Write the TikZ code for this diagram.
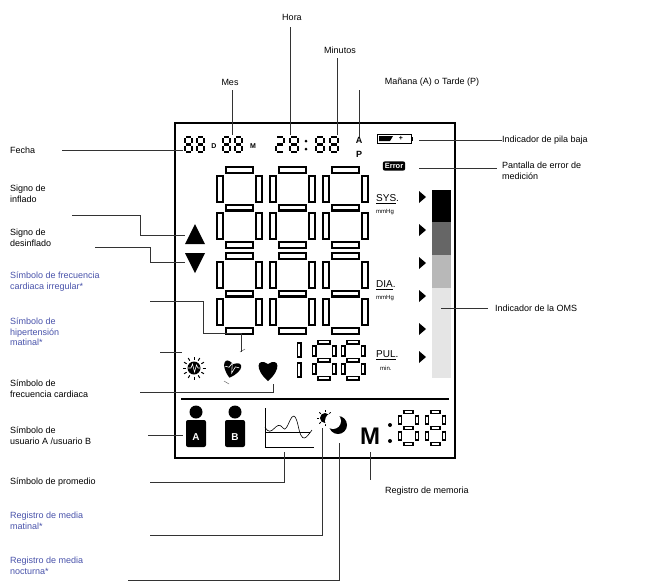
\documentclass[tikz,border=0pt]{standalone}
\usepackage{fontspec}
\setmainfont{Liberation Sans}
\begin{document}
\begin{tikzpicture}[x=1pt,y=-1pt,
  lbl/.style={font=\fontsize{9}{10.5}\selectfont,align=left,inner sep=0pt},
  blu/.style={lbl,text=irr},
  lead/.style={draw=black!80,line width=0.6pt},
  segA/.style={line width=#1,black,line cap=butt},
  segB/.style={line width=#1,white,line cap=butt,shorten <=2pt,shorten >=2pt}]
\definecolor{irr}{RGB}{72,82,170}
\useasboundingbox (0,0) rectangle (645,587);
\newcommand\sseg[3]{\draw[segA=#3pt] #1--#2;\ifdim #3pt>3pt \draw[segB=#3pt*0.4] #1--#2;\fi}
\newcommand\sdigpre[5]{%
  \pgfmathsetmacro\gx{#5*0.6}%
  \pgfmathsetmacro\xa{#1}\pgfmathsetmacro\xb{#1+#3}%
  \pgfmathsetmacro\xc{#1+\gx}\pgfmathsetmacro\xd{#1+#3-\gx}%
  \pgfmathsetmacro\ya{#2}\pgfmathsetmacro\ym{#2+#4*0.5}\pgfmathsetmacro\yb{#2+#4}%
  \pgfmathsetmacro\yc{#2+\gx}\pgfmathsetmacro\yd{#2+#4*0.5-\gx}%
  \pgfmathsetmacro\ye{#2+#4*0.5+\gx}\pgfmathsetmacro\yf{#2+#4-\gx}}
\newcommand\sdig[5]{% x y w h lw
  \sdigpre{#1}{#2}{#3}{#4}{#5}%
  \sseg{(\xc,\ya)}{(\xd,\ya)}{#5}\sseg{(\xc,\ym)}{(\xd,\ym)}{#5}\sseg{(\xc,\yb)}{(\xd,\yb)}{#5}%
  \sseg{(\xa,\yc)}{(\xa,\yd)}{#5}\sseg{(\xb,\yc)}{(\xb,\yd)}{#5}%
  \sseg{(\xa,\ye)}{(\xa,\yf)}{#5}\sseg{(\xb,\ye)}{(\xb,\yf)}{#5}}
\newcommand\sdigtwo[5]{%
  \sdigpre{#1}{#2}{#3}{#4}{#5}%
  \sseg{(\xc,\ya)}{(\xd,\ya)}{#5}\sseg{(\xc,\ym)}{(\xd,\ym)}{#5}\sseg{(\xc,\yb)}{(\xd,\yb)}{#5}%
  \sseg{(\xb,\yc)}{(\xb,\yd)}{#5}\sseg{(\xa,\ye)}{(\xa,\yf)}{#5}}
% frame
\draw[line width=1.6pt] (175,123) rectangle (455,458);
\draw[line width=1.6pt] (181,399) -- (449,399);
% date / time
\sdig{185}{137}{7}{15}{2.4}\sdig{197}{137}{7}{15}{2.4}
\node[font=\bfseries\fontsize{7}{7}\selectfont,inner sep=0] (D) at (214,146) {D};
\sdig{223}{137}{7}{15}{2.4}\sdig{235}{137}{7}{15}{2.4}
\node[font=\bfseries\fontsize{7}{7}\selectfont,inner sep=0] (Mm) at (253,146) {M};
\sdigtwo{276}{137}{8}{15}{2.4}\sdig{290}{137}{8}{15}{2.4}
\fill (306,141) circle (1.5) (306,149) circle (1.5);
\sdig{316}{137}{8}{15}{2.4}\sdig{330}{137}{8}{15}{2.4}
\node[font=\bfseries\fontsize{9}{9}\selectfont,inner sep=0] (A) at (359,140) {A};
\node[font=\bfseries\fontsize{9}{9}\selectfont,inner sep=0] (P) at (359,154) {P};
% battery
\draw[line width=1pt] (377,134) rectangle (411,143);
\fill (411.5,136.5) rectangle (413,140.5);
\fill (379,136) -- (393,136) -- (390,141) -- (379,141) -- cycle;
\node[font=\bfseries\fontsize{7}{7}\selectfont,inner sep=0] (bat) at (401,138.5) {+};
\node[fill=black,text=white,rounded corners=2pt,font=\bfseries\fontsize{7.5}{8}\selectfont,inner sep=2pt] (err) at (394,166) {Error};
% big digits
\foreach \xx in {220,273,326}{\sdig{\xx}{170}{39}{75}{8}\sdig{\xx}{256}{39}{75}{8}}
% pulse
\sseg{(299,342)}{(299,358)}{5}\sseg{(299,362)}{(299,378)}{5}
\sdig{314}{342}{20}{36}{5}\sdig{343}{342}{20}{36}{5}
% labels on LCD
\node[font=\fontsize{10}{10}\selectfont,inner sep=0,anchor=west] (sys) at (376,199) {\underline{SYS}.};
\node[font=\fontsize{6}{6}\selectfont,inner sep=0,anchor=west] (mm1) at (376,212) {mmHg};
\node[font=\fontsize{10}{10}\selectfont,inner sep=0,anchor=west] (dia) at (376,285) {\underline{DIA}.};
\node[font=\fontsize{6}{6}\selectfont,inner sep=0,anchor=west] (mm2) at (376,298) {mmHg};
\node[font=\fontsize{10}{10}\selectfont,inner sep=0,anchor=west] (pul) at (376,355) {\underline{PUL}.};
\node[font=\fontsize{6}{6}\selectfont,inner sep=0,anchor=west] (mn) at (380,368) {min.};
\foreach \yy in {197,230,263,296,329,357}{\fill (419,\yy-6) -- (426,\yy) -- (419,\yy+6) -- cycle;}
\fill[black] (432,190) rectangle (451,222);
\fill[black!60] (432,222) rectangle (451,255);
\fill[black!28] (432,255) rectangle (451,288);
\fill[black!10] (432,288) rectangle (451,378);
\coordinate (oms) at (441,308);
% triangles
\fill (195,224) -- (205,244) -- (185,244) -- cycle; \coordinate (up) at (185,235);
\fill (185,253) -- (205,253) -- (195,273) -- cycle; \coordinate (dn) at (185,262);
% sun icon
\fill (194,368) circle (6.5);
\foreach \t in {0,30,...,330}{\draw[line width=1pt] (194,368)++(\t:8.5) -- ++(\t:3);}
\draw[white,line width=0.6pt] (188,368)--(191,368)--(192.5,364)--(194.5,372)--(196.5,365)--(198,368)--(200,368);
\coordinate (sun) at (182,352);
% irregular heart
\begin{scope}[shift={(232,368)},rotate=-15]
\fill (0,10) .. controls (-13,0) and (-10,-11) .. (0,-4) .. controls (10,-11) and (13,0) .. (0,10);
\draw[white,line width=0.6pt] (-7,0)--(-3,0)--(-1,-5)--(1,5)--(3,-2)--(7,-2);
\end{scope}
\draw[line width=0.5pt,black!60] (240,352)--(245,349) (224,381)--(229,384);
% heart
\begin{scope}[shift={(268,369)}]
\fill (0,12) .. controls (-14,0) and (-11,-12) .. (0,-5) .. controls (11,-12) and (14,0) .. (0,12);
\end{scope}
% users
\foreach \xx/\ll in {196/A,235/B}{
 \fill (\xx,412) circle (6.5);
 \fill[rounded corners=2pt] (\xx-10,420) rectangle (\xx+10,447);
 \node[text=white,font=\bfseries\fontsize{10}{10}\selectfont,inner sep=0] (u\ll) at (\xx,437) {\ll};}
% average chart
\draw[line width=0.8pt] (265,408) -- (265,447) -- (314,447);
\draw[line width=0.6pt] (265,427) .. controls (272,440) and (276,418) .. (283,428) .. controls (288,436) and (292,400) .. (298,425) .. controls (302,445) and (306,438) .. (312,430);
\draw[line width=0.6pt] (265,432) -- (310,432);
% sun/moon
\fill (325,418) circle (5);
\foreach \t in {0,45,...,315}{\draw[line width=0.8pt] (325,418)++(\t:6) -- ++(\t:2);}
\fill (338,425) circle (9); \fill[white] (333,421) circle (8);
% memory
\node[font=\bfseries\fontsize{24}{24}\selectfont,inner sep=0] (M) at (370,436) {M};
\fill (390,425) circle (2) (390,441) circle (2);
\sdig{400}{412}{17}{32}{4.5}\sdig{427}{412}{17}{32}{4.5}
% ---- callouts
\node[lbl] (hora) at (292,17) {Hora};
\draw[lead] (290,27) -- (290,135);
\node[lbl] (min) at (340,50) {Minutos};
\draw[lead] (337,58) -- (337,135);
\node[lbl] (mes) at (230,82) {Mes};
\draw[lead] (232,90) -- (232,135);
\node[lbl] (ap) at (432,82) {Mañana (A) o Tarde (P)};
\draw[lead] (359,90) -- (A.north);
\node[lbl,anchor=west] (fecha) at (10,150) {Fecha};
\draw[lead] (62,150) -- (183,150);
\node[lbl,anchor=west] (pila) at (502,140) {Indicador de pila baja};
\draw[lead] (419,140) -- (pila.west);
\node[lbl,anchor=north west] (perr) at (502,162) {Pantalla de  error de\\medición};
\draw[lead] (419,168) -- (497,168);
\node[lbl,anchor=west] (omsl) at (495,308) {Indicador de la OMS};
\draw[lead] (oms) -- (488,308);
\node[lbl,anchor=north west] (infl) at (10,185) {Signo de\\inflado};
\draw[lead] (72,215) -- (140,215) -- (140,235) -- (up);
\node[lbl,anchor=north west] (desi) at (10,229) {Signo de\\desinflado};
\draw[lead] (95,247) -- (150,247) -- (150,262) -- (dn);
\node[blu,anchor=north west] (irrl) at (10,272) {Símbolo de frecuencia\\cardiaca irregular*};
\draw[lead] (150,301) -- (203,301) -- (203,333) -- (241,333) -- (241,352);
\node[blu,anchor=north west] (hip) at (10,318) {Símbolo de\\hipertensión\\matinal*};
\draw[lead] (160,352) -- (sun);
\node[lbl,anchor=north west] (fc) at (10,380) {Símbolo de\\frecuencia cardiaca};
\draw[lead] (140,392) -- (273,392) -- (273,384);
\node[lbl,anchor=north west] (usr) at (10,427) {Símbolo de\\usuario A /usuario B};
\draw[lead] (148,435) -- (183,435);
\node[lbl,anchor=west] (prom) at (10,482) {Símbolo de promedio};
\draw[lead] (150,482) -- (284,482) -- (284,452);
\node[blu,anchor=north west] (mat) at (10,512) {Registro de  media\\matinal*};
\draw[lead] (150,535) -- (322,535) -- (322,428);
\node[blu,anchor=north west] (noc) at (10,557) {Registro de  media\\nocturna*};
\draw[lead] (128,580) -- (339,580) -- (339,443);
\node[lbl,anchor=west] (mem) at (385,491) {Registro de memoria};
\draw[lead] (370,452) -- (370,480);
\end{tikzpicture}
\end{document}
